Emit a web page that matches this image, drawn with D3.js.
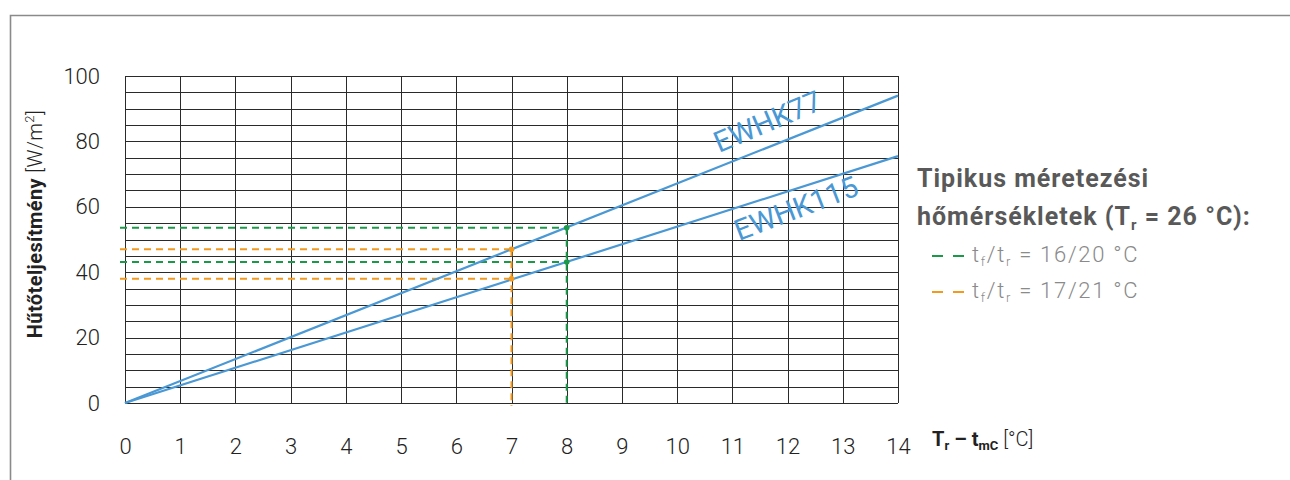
<!DOCTYPE html>
<html><head><meta charset="utf-8">
<script src="https://cdn.jsdelivr.net/npm/d3@7"></script>
<style>body{margin:0;background:#fff}svg{display:block}</style>
</head><body>
<svg id="c" width="1290" height="480"></svg>
<script>
const xTicks = [0,1,2,3,4,5,6,7,8,9,10,11,12,13,14];
const yTicks = [0,20,40,60,80,100];
const yGrid = d3.range(0,101,5);
const seriesNames = ["EWHK77","EWHK115"];
const seriesX = [0,14];
const ewhk77 = [0,94];
const ewhk115 = [0,75.5];
const refNames = ["tf/tr = 16/20 °C","tf/tr = 17/21 °C"];
const refX = [8,7];
const refHigh = [53.6,47];
const refLow = [43.1,38];
const refColors = ["#1a9a48","#f39a1e"];
const blue = "#4a98d4";

const svg = d3.select("#c");
const x = d3.scaleLinear().domain([0,14]).range([125,898]);
const y = d3.scaleLinear().domain([0,100]).range([403,76]);

// frame
svg.append("path").attr("d","M10.5,480 V15.5 H1290").attr("fill","none").attr("stroke","#8a8a8a").attr("stroke-width",1.6);

// grid
const g = svg.append("g");
g.selectAll(".hg").data(yGrid).join("line")
  .attr("x1",x(0)).attr("x2",x(14)).attr("y1",d=>Math.round(y(d))+0.5).attr("y2",d=>Math.round(y(d))+0.5)
  .attr("stroke","#2a2a2a").attr("stroke-width",1);
g.selectAll(".vg").data(xTicks).join("line")
  .attr("y1",y(0)).attr("y2",y(100)).attr("x1",d=>Math.round(x(d))+0.5).attr("x2",d=>Math.round(x(d))+0.5)
  .attr("stroke","#2a2a2a").attr("stroke-width",1);

// axes labels via d3 axis
const font = "Roboto, 'DejaVu Sans', sans-serif";
const xa = svg.append("g").attr("transform",`translate(0,${y(0)})`)
  .call(d3.axisBottom(x).tickValues(xTicks).tickSize(0).tickPadding(35).tickFormat(d3.format("d")));
xa.select(".domain").remove();
xa.selectAll("text").attr("font-family",font).attr("font-size",22).attr("font-weight",300).attr("fill","#222");
const ya = svg.append("g").attr("transform",`translate(${x(0)},0)`)
  .call(d3.axisLeft(y).tickValues(yTicks).tickSize(0).tickPadding(25).tickFormat(d3.format("d")));
ya.select(".domain").remove();
ya.selectAll("text").attr("font-family",font).attr("font-size",22).attr("font-weight",300).attr("fill","#222").attr("dy","0.32em");

// reference dashed lines
refX.forEach((rx,i)=>{
  const c = refColors[i];
  [refHigh[i],refLow[i]].forEach(v=>{
    svg.append("line").attr("x1",x(0)-5).attr("x2",x(rx)).attr("y1",y(v)).attr("y2",y(v))
      .attr("stroke",c).attr("stroke-width",2).attr("stroke-dasharray","7,5");
  });
  svg.append("line").attr("x1",x(rx)).attr("x2",x(rx)).attr("y1",y(refHigh[i])).attr("y2",y(0)+3)
    .attr("stroke",c).attr("stroke-width",2).attr("stroke-dasharray","7,5");
});

// series lines
const line = d3.line().x(d=>x(d[0])).y(d=>y(d[1]));
[ewhk77,ewhk115].forEach(s=>{
  svg.append("path").datum(seriesX.map((xx,i)=>[xx,s[i]])).attr("d",line)
    .attr("fill","none").attr("stroke",blue).attr("stroke-width",2.2);
});

// points
refX.forEach((rx,i)=>{
  [refHigh[i],refLow[i]].forEach(v=>{
    svg.append("circle").attr("cx",x(rx)).attr("cy",y(v)).attr("r",2.8).attr("fill",refColors[i]);
  });
});

// series labels
svg.append("text").attr("transform","translate(719,153) rotate(-23)")
  .attr("font-family",font).attr("font-size",29).attr("fill",blue).text(seriesNames[0]);
svg.append("text").attr("transform","translate(739,241) rotate(-21)")
  .attr("font-family",font).attr("font-size",29).attr("fill",blue).text(seriesNames[1]);

// y title
const yt = svg.append("text").attr("transform","translate(42,224) rotate(-90)").attr("text-anchor","middle")
  .attr("font-family",font).attr("font-size",20).attr("letter-spacing",0.4).attr("fill","#222");
yt.append("tspan").attr("font-weight",700).text("Hűtőteljesítmény");
yt.append("tspan").attr("font-weight",300).text(" [W/m");
yt.append("tspan").attr("font-weight",300).attr("font-size",13).attr("dy",-8).text("2");
yt.append("tspan").attr("font-weight",300).attr("dy",8).text("]");

// x title
const xt = svg.append("text").attr("x",932).attr("y",446).attr("font-family",font).attr("font-size",20).attr("fill","#222");
xt.append("tspan").attr("font-weight",700).text("T");
xt.append("tspan").attr("font-weight",700).attr("font-size",13).attr("dy",4).text("r");
xt.append("tspan").attr("font-weight",700).attr("dy",-4).text(" – t");
xt.append("tspan").attr("font-weight",700).attr("font-size",13).attr("dy",4).text("mC");
xt.append("tspan").attr("font-weight",300).attr("dy",-4).text(" [°C]");

// legend
const lg = svg.append("g").attr("font-family",font);
lg.append("text").attr("x",917).attr("y",187).attr("font-size",25).attr("letter-spacing",1).attr("font-weight",700).attr("fill","#595959").text("Tipikus méretezési");
const l2 = lg.append("text").attr("x",917).attr("y",225).attr("font-size",25).attr("letter-spacing",1).attr("font-weight",700).attr("fill","#595959");
l2.append("tspan").text("hőmérsékletek (T");
l2.append("tspan").attr("font-size",15).attr("dy",5).text("r");
l2.append("tspan").attr("dy",-5).text(" = 26 °C):");
refNames.forEach((n,i)=>{
  const yy = [262,298][i];
  lg.append("line").attr("x1",932).attr("x2",964).attr("y1",yy-6).attr("y2",yy-6)
    .attr("stroke",refColors[i]).attr("stroke-width",2.2).attr("stroke-dasharray","11,10");
  const t = lg.append("text").attr("x",972).attr("y",yy).attr("font-size",22).attr("letter-spacing",1.7).attr("font-weight",300).attr("fill","#8a8a8a");
  const parts = n.match(/^tf\/tr(.*)$/);
  t.append("tspan").text("t");
  t.append("tspan").attr("font-size",13).attr("dy",4).text("f");
  t.append("tspan").attr("dy",-4).text("/t");
  t.append("tspan").attr("font-size",13).attr("dy",4).text("r");
  t.append("tspan").attr("dy",-4).text(parts[1]);
});
</script>
</body></html>
